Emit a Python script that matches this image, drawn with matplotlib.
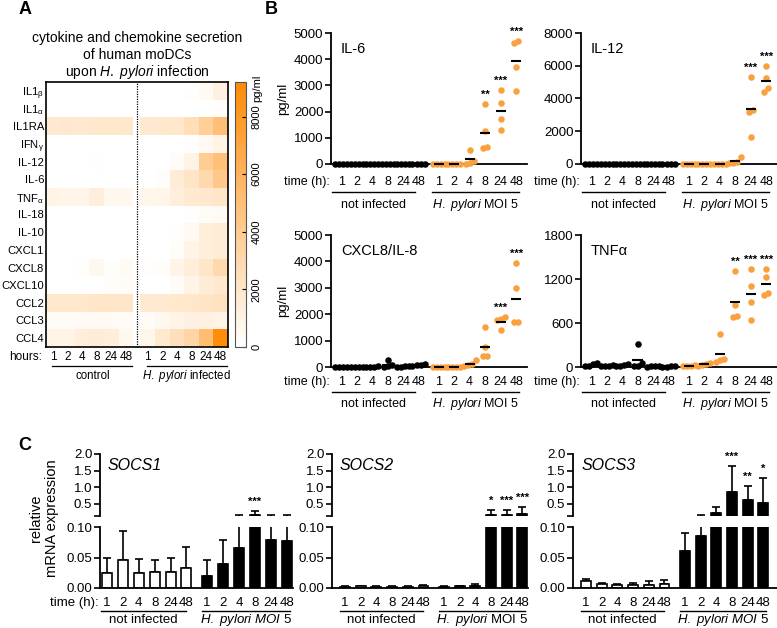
import numpy as np
import matplotlib
matplotlib.use('Agg')
import matplotlib.pyplot as plt
import matplotlib.transforms as mtrans
from matplotlib.colors import LinearSegmentedColormap
from matplotlib import font_manager as fm

W, H = 777, 628
plt.rcParams['font.family'] = ['Liberation Sans', 'DejaVu Sans']
plt.rcParams['mathtext.fontset'] = 'custom'
plt.rcParams['mathtext.rm'] = 'Liberation Sans'
plt.rcParams['mathtext.it'] = 'Liberation Sans:italic'
plt.rcParams['mathtext.bf'] = 'Liberation Sans:bold'
names = {f.name for f in fm.fontManager.ttflist}
NARROW = 'Liberation Sans Narrow' if 'Liberation Sans Narrow' in names else 'Liberation Sans'

# ---------------- data ----------------
hours = ['1', '2', '4', '8', '24', '48']

hm_rows = [r'IL1$_\mathrm{β}$', r'IL1$_\mathrm{α}$', 'IL1RA', r'IFN$_\mathrm{γ}$', 'IL-12', 'IL-6',
           r'TNF$_\mathrm{α}$', 'IL-18', 'IL-10', 'CXCL1', 'CXCL8', 'CXCL10', 'CCL2', 'CCL3', 'CCL4']
hm_control = [
    [0, 0, 0, 0, 0, 0],
    [0, 0, 0, 0, 0, 0],
    [1700, 1800, 1700, 1900, 1900, 1800],
    [0, 0, 0, 0, 0, 0],
    [0, 0, 0, 100, 0, 0],
    [0, 0, 0, 0, 0, 0],
    [900, 800, 800, 1300, 600, 600],
    [0, 0, 0, 0, 0, 0],
    [0, 0, 0, 0, 0, 0],
    [0, 0, 0, 0, 0, 0],
    [0, 0, 100, 600, 200, 400],
    [0, 0, 0, 0, 200, 300],
    [1900, 1900, 1900, 2000, 2000, 2000],
    [300, 300, 400, 500, 400, 300],
    [900, 900, 1300, 1500, 1400, 600],
]
hm_infected = [
    [0, 0, 0, 100, 400, 1100],
    [0, 0, 0, 0, 50, 100],
    [1700, 1800, 1900, 2600, 3800, 5000],
    [0, 0, 0, 100, 500, 900],
    [0, 0, 300, 1000, 4000, 4900],
    [0, 200, 1500, 2100, 3000, 4300],
    [700, 800, 1400, 1700, 1800, 2000],
    [0, 0, 0, 100, 300, 400],
    [0, 0, 100, 500, 1400, 1500],
    [0, 0, 200, 900, 1400, 1500],
    [100, 200, 900, 1400, 2000, 3000],
    [0, 0, 300, 900, 1500, 1800],
    [1700, 1700, 1800, 1900, 2100, 2300],
    [300, 600, 900, 1100, 1200, 1000],
    [700, 1700, 2500, 3300, 5200, 9000],
]
hm_ticks = [0, 2000, 4000, 6000, 8000]

Z4 = [0, 0, 0, 0]
il6_ctrl = [Z4, Z4, Z4, Z4, Z4, Z4]
il6_inf = [Z4, Z4, [550, 100, 40, 0], [2300, 1250, 600, 650],
           [2820, 2320, 1700, 1280], [4680, 4620, 3700, 2780]]
il6_sig = ['', '', '', '', '', '', '', '', '', '**', '***', '***']

il12_ctrl = [Z4, Z4, Z4, Z4, Z4, Z4]
il12_inf = [Z4, Z4, Z4, [430, 150, 80, 50],
            [5300, 3300, 3200, 1650], [5980, 5240, 4640, 4410]]
il12_sig = ['', '', '', '', '', '', '', '', '', '', '***', '***']

cxcl8_ctrl = [Z4, Z4, [20, 0, 0, 10], [265, 60, 20, 0], [40, 20, 10, 0], [120, 80, 60, 20]]
cxcl8_inf = [Z4, Z4, [280, 120, 60, 30], [1500, 740, 430, 400],
             [1880, 1800, 1780, 1420], [3930, 3000, 1720, 1720]]
cxcl8_sig = ['', '', '', '', '', '', '', '', '', '', '***', '***']

tnf_ctrl = [[60, 40, 20, 10], [30, 20, 20, 10], [40, 30, 20, 10], [317, 60, 20, 10],
            [20, 15, 10, 5], [10, 10, 5, 5]]
tnf_inf = [[30, 20, 15, 10], [50, 40, 30, 20], [450, 110, 90, 75], [1310, 850, 680, 700],
           [1330, 1100, 890, 645], [1330, 1225, 985, 1005]]
tnf_sig = ['', '', '', '', '', '', '', '', '', '**', '***', '***']

socs1_mean = [0.025, 0.046, 0.025, 0.027, 0.027, 0.033, 0.020, 0.039, 0.065, 0.160, 0.078, 0.077]
socs1_err = [0.025, 0.048, 0.023, 0.019, 0.023, 0.034, 0.026, 0.039, 0.095, 0.130, 0.082, 0.083]
socs1_sig = ['', '', '', '', '', '', '', '', '', '***', '', '']

socs2_mean = [0.002, 0.003, 0.002, 0.002, 0.002, 0.003, 0.002, 0.003, 0.004, 0.170, 0.180, 0.200]
socs2_err = [0.001, 0.001, 0.001, 0.001, 0.001, 0.002, 0.001, 0.001, 0.003, 0.150, 0.140, 0.210]
socs2_sig = ['', '', '', '', '', '', '', '', '', '*', '***', '***']

socs3_mean = [0.011, 0.006, 0.005, 0.005, 0.005, 0.007, 0.060, 0.085, 0.230, 0.860, 0.620, 0.530]
socs3_err = [0.004, 0.002, 0.002, 0.003, 0.006, 0.006, 0.030, 0.075, 0.180, 0.780, 0.420, 0.750]
socs3_sig = ['', '', '', '', '', '', '', '', '', '***', '**', '*']

# ---------------- helpers ----------------
fig = plt.figure(figsize=(W / 100, H / 100), dpi=100)


def add_ax(l, t, r, b):
    return fig.add_axes([l / W, 1 - b / H, (r - l) / W, (b - t) / H])


def fx(px):
    return px / W


def fy(py):
    return 1 - py / H


ORANGE = '#F9A03F'
XPOS = np.r_[np.arange(6), 6.3 + np.arange(6)]


def under_labels(ax, xs, ylab, yline, ygrp, cspan, ispan, fs_t, fs_g, time_label, inf_text, left_px):
    tr = mtrans.blended_transform_factory(ax.transData, fig.transFigure)
    for x, h in zip(xs, hours * 2):
        ax.text(x, fy(ylab), h, transform=tr, ha='center', va='center', fontsize=fs_t,
                family=[NARROW, 'Liberation Sans'])
    if time_label:
        fig.text(fx(left_px - 1), fy(ylab), 'time (h):', ha='right', va='center', fontsize=fs_t,
                 family=[NARROW, 'Liberation Sans'])
    for span, txt in ((cspan, 'not infected'), (ispan, inf_text)):
        ax.plot(span, [fy(yline)] * 2, transform=tr, color='k', lw=1.0, clip_on=False)
        ax.text(np.mean(span), fy(ygrp), txt, transform=tr, ha='center', va='center', fontsize=fs_g)


def swarm_offsets(vals, px_per_unit, thresh=5.0, step=0.26):
    vals = np.asarray(vals, float)
    order = np.argsort(vals, kind='stable')
    offs = np.zeros(len(vals))
    clusters, cur = [], [order[0]]
    for i in order[1:]:
        if (vals[i] - vals[cur[-1]]) * px_per_unit < thresh:
            cur.append(i)
        else:
            clusters.append(cur)
            cur = [i]
    clusters.append(cur)
    for c in clusters:
        k = len(c)
        for j, i in enumerate(c):
            offs[i] = (j - (k - 1) / 2) * step
    return offs


# ---------------- Panel A: heatmap ----------------
cmap = LinearSegmentedColormap.from_list('wo', ['#FFFFFF', '#FF8A05'])
axh = add_ax(45.7, 82, 228, 347)
M = np.full((15, 13), np.nan)
M[:, :6] = np.array(hm_control)
M[:, 7:] = np.array(hm_infected)
xe = np.r_[np.arange(7), 6.5 + np.arange(7)]
mesh = axh.pcolormesh(xe, np.arange(16), M, cmap=cmap, vmin=0, vmax=9200)
axh.set_xlim(0, 12.5)
axh.set_ylim(15, 0)
axh.axvline(6.25, color='k', ls=(0, (1, 1)), lw=0.9)
axh.set_yticks(np.arange(15) + 0.5)
axh.set_yticklabels(hm_rows, fontsize=8.1)
axh.tick_params(axis='y', length=0, pad=1.2)
axh.set_xticks([])
for s in axh.spines.values():
    s.set_linewidth(1.2)

trh = mtrans.blended_transform_factory(axh.transData, fig.transFigure)
hx = np.r_[np.arange(6) + 0.5, 7.0 + np.arange(6)]
for x, h in zip(hx, hours * 2):
    axh.text(x, fy(357), h, transform=trh, ha='center', va='center', fontsize=8.5,
             family=[NARROW, 'Liberation Sans'])
fig.text(fx(42), fy(357), 'hours:', ha='right', va='center', fontsize=8.5)
for span, txt in (((0.45, 5.95), 'control'), ((6.95, 12.4), r'$\it{H.\ pylori}$ infected')):
    axh.plot(span, [fy(366)] * 2, transform=trh, color='k', lw=0.9, clip_on=False)
    axh.text(np.mean(span), fy(376), txt, transform=trh, ha='center', va='center', fontsize=8.3)

fig.text(fx(137), fy(38), 'cytokine and chemokine secretion', ha='center', va='center', fontsize=10)
fig.text(fx(137), fy(55), 'of human moDCs', ha='center', va='center', fontsize=10)
fig.text(fx(137), fy(72), r'upon $\it{H.\ pylori}$ infection', ha='center', va='center', fontsize=10)

cax = add_ax(235, 82, 246, 347)
cb = fig.colorbar(mesh, cax=cax, ticks=hm_ticks)
cb.outline.set_linewidth(0.8)
cb.outline.set_edgecolor('#555555')
cax.tick_params(direction='in', length=3, width=0.8, labelsize=8, pad=4, color='k')
cax.set_yticklabels([str(t) for t in hm_ticks], rotation=90, va='center')
fig.text(fx(257), fy(88), 'pg/ml', rotation=90, ha='center', va='center', fontsize=8)

# ---------------- Panel B: scatter ----------------
def scatter_panel(box, title, ymax, yticks, ctrl, inf, sig, ylabel, rows):
    l, t, r, b = box
    ax = add_ax(l, t, r, b)
    ax.set_xlim(-0.65, 12.0)
    ax.set_ylim(0, ymax)
    ppu = (b - t) / ymax
    groups = list(ctrl) + list(inf)
    for gi, (x, vals) in enumerate(zip(XPOS, groups)):
        col = 'k' if gi < 6 else ORANGE
        offs = swarm_offsets(vals, ppu)
        ax.scatter(x + offs, vals, s=22, color=col, linewidths=0, zorder=3, clip_on=False)
        m = np.mean(vals)
        ax.plot([x - 0.33, x + 0.33], [m, m], color='k', lw=1.5, solid_capstyle='butt', zorder=4,
                clip_on=False)
        if sig[gi]:
            ax.annotate(sig[gi], (x, max(vals)), xytext=(0, 3), textcoords='offset points',
                        ha='center', va='bottom', fontsize=8, fontweight='bold')
    for s in ('top', 'right'):
        ax.spines[s].set_visible(False)
    for s in ('left', 'bottom'):
        ax.spines[s].set_linewidth(1.3)
    ax.set_xticks([])
    ax.set_yticks(yticks)
    ax.tick_params(axis='y', direction='out', length=4, width=1.2, labelsize=9.5, pad=1.5)
    ax.text(0.05, 0.93, title, transform=ax.transAxes, ha='left', va='top', fontsize=10.5)
    if ylabel:
        fig.text(fx(283), fy((t + b) / 2), 'pg/ml', rotation=90, ha='center', va='center', fontsize=9.5)
    ylab, yline, ygrp = rows
    under_labels(ax, XPOS, ylab, yline, ygrp, (-0.6, 4.8), (5.9, 11.5), 9, 9,
                 True, r'$\it{H.\ pylori}$ MOI 5', l)
    return ax


scatter_panel((331, 33, 527, 164), 'IL-6', 5000, [0, 1000, 2000, 3000, 4000, 5000],
              il6_ctrl, il6_inf, il6_sig, True, (182, 192, 205))
scatter_panel((581, 33, 777, 164), 'IL-12', 8000, [0, 2000, 4000, 6000, 8000],
              il12_ctrl, il12_inf, il12_sig, False, (182, 192, 205))
scatter_panel((331, 235, 527, 367), 'CXCL8/IL-8', 5000, [0, 1000, 2000, 3000, 4000, 5000],
              cxcl8_ctrl, cxcl8_inf, cxcl8_sig, True, (382, 392, 404))
scatter_panel((581, 235, 777, 367), 'TNFα', 1800, [0, 600, 1200, 1800],
              tnf_ctrl, tnf_inf, tnf_sig, False, (382, 392, 404))

# ---------------- Panel C: broken-axis bars ----------------
def bar_panel(l, r, xlim, title, means, errs, sig, time_label, inf_text):
    lo = add_ax(l, 527, r, 588)
    up = add_ax(l, 454, r, 516)
    means = np.asarray(means)
    errs = np.asarray(errs)
    cols = ['white'] * 6 + ['black'] * 6
    for ax in (lo, up):
        ax.set_xlim(*xlim)
        ax.bar(XPOS, means, width=0.63, color=cols, edgecolor='k', linewidth=1.2, zorder=2)
        ax.errorbar(XPOS, means, yerr=[np.zeros_like(errs), errs], fmt='none', ecolor='k',
                    elinewidth=1.2, capsize=3, capthick=1.2, zorder=1)
        for s in ('top', 'right'):
            ax.spines[s].set_visible(False)
        ax.spines['left'].set_linewidth(1.3)
        ax.set_xticks([])
        ax.tick_params(axis='y', direction='out', length=4, width=1.2, labelsize=9.5, pad=1.5)
    lo.set_ylim(0, 0.10)
    lo.set_yticks([0, 0.05, 0.10])
    lo.set_yticklabels(['0.00', '0.05', '0.10'])
    lo.spines['bottom'].set_linewidth(1.3)
    up.set_ylim(0.14, 2.0)
    up.set_yticks([0.14, 0.5, 1.0, 1.5, 2.0])
    up.set_yticklabels(['', '0.5', '1.0', '1.5', '2.0'])
    up.spines['bottom'].set_visible(False)
    for x, m, e, s in zip(XPOS, means, errs, sig):
        if s:
            up.annotate(s, (x, m + e), xytext=(0, 3), textcoords='offset points',
                        ha='center', va='bottom', fontsize=8, fontweight='bold')
    up.text(0.04, 0.93, title, transform=up.transAxes, ha='left', va='top', fontsize=11.5,
            style='italic')
    under_labels(lo, XPOS, 603, 611, 620, (-0.35, 4.95), (6.0, 11.5), 9.5, 9.5,
                 time_label, inf_text, l)


bar_panel(100, 293, (-0.44, 11.7), 'SOCS1', socs1_mean, socs1_err, socs1_sig, True,
          r'$\it{H.\ pylori\ MOI\ 5}$')
bar_panel(332, 528, (-0.83, 11.66), 'SOCS2', socs2_mean, socs2_err, socs2_sig, False,
          r'$\it{H.\ pylori}$ MOI 5')
bar_panel(573, 777, (-0.83, 12.17), 'SOCS3', socs3_mean, socs3_err, socs3_sig, False,
          r'$\it{H.\ pylori\ MOI\ 5}$')

fig.text(fx(44), fy(518), 'relative\nmRNA expression', rotation=90, ha='center', va='center',
         fontsize=10.5, multialignment='center', linespacing=1.1)

# panel letters
fig.text(fx(25), fy(9), 'A', ha='center', va='center', fontsize=13, fontweight='bold')
fig.text(fx(271), fy(9), 'B', ha='center', va='center', fontsize=13, fontweight='bold')
fig.text(fx(25), fy(445), 'C', ha='center', va='center', fontsize=13, fontweight='bold')

fig.savefig('out.png', dpi=100)
